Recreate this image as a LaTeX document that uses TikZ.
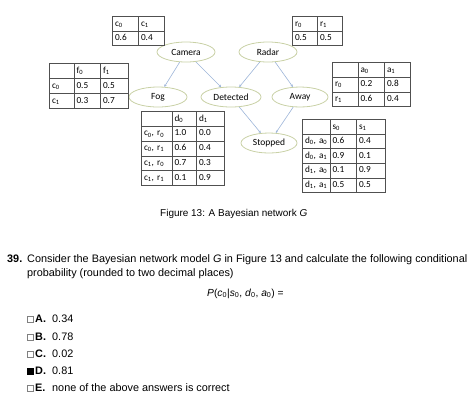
\documentclass[tikz,border=0pt]{standalone}
\usepackage{fontspec}
\setmainfont{Liberation Sans}
\newfontfamily\tabfont{Carlito}
\usetikzlibrary{arrows.meta,shapes.geometric,matrix}
\definecolor{edgec}{HTML}{9CB4D8}
\definecolor{ellc}{HTML}{C9D1A6}
\definecolor{gridc}{HTML}{505050}
\newcommand\sbs[1]{\textsubscript{#1}}
\tikzset{
  bn/.style={ellipse, draw=ellc, line width=0.8bp, fill=white, inner sep=0pt,
    minimum height=20bp, font=\tabfont\fontsize{9.5}{11}\selectfont},
  edge/.style={draw=edgec, line width=0.6bp, -{Stealth[length=2.5bp,width=2.5bp]}},
  cpt/.style={matrix of nodes, nodes in empty cells, inner sep=0pt, anchor=north west,
    column sep=-0.6bp, row sep=-0.6bp,
    font=\tabfont\fontsize{9.3}{10}\selectfont,
    nodes={draw=gridc, line width=0.6bp, inner xsep=2.5bp, inner ysep=0pt, align=left,
      text height=6.5bp, text depth=2bp, anchor=center}},
  qtext/.style={anchor=base west, inner sep=0pt, font=\fontsize{10.9}{13}\selectfont},
  cbox/.style={draw=gray, line width=0.5bp, minimum size=6.5bp, inner sep=0pt},
}
\begin{document}
\begin{tikzpicture}[x=1bp,y=-1bp]
\useasboundingbox (0,0) rectangle (474,417);
% nodes
\node[bn, minimum width=58bp] (cam) at (186,52) {Camera};
\node[bn, minimum width=58bp] (rad) at (268,52) {Radar};
\node[bn, minimum width=58bp] (fog) at (158,97) {Fog};
\node[bn, minimum width=60bp] (det) at (231,97) {Detected};
\node[bn, minimum width=56bp] (awy) at (300,97) {Away};
\node[bn, minimum width=56bp] (stp) at (269,143) {Stopped};
% edges
\draw[edge] (cam) -- (fog);
\draw[edge] (cam) -- (det);
\draw[edge] (rad) -- (det);
\draw[edge] (rad) -- (awy);
\draw[edge] (det) -- (stp);
\draw[edge] (awy) -- (stp);
% tables
\matrix (camT) [cpt, nodes={text width=21bp, minimum height=14.6bp}] at (112,16) {
  c\sbs{0} & c\sbs{1} \\
  0.6 & 0.4 \\
};
\matrix (radT) [cpt, nodes={text width=20bp, minimum height=14.6bp}] at (292,16) {
  r\sbs{0} & r\sbs{1} \\
  0.5 & 0.5 \\
};
\matrix (fogT) [cpt, nodes={minimum height=15bp},
  column 1/.style={nodes={text width=19.5bp}},
  column 2/.style={nodes={text width=21.5bp}},
  column 3/.style={nodes={text width=22.5bp}}] at (49,63) {
  & f\sbs{0} & f\sbs{1} \\
  c\sbs{0} & 0.5 & 0.5 \\
  c\sbs{1} & 0.3 & 0.7 \\
};
\matrix (awyT) [cpt, nodes={minimum height=14.7bp},
  column 1/.style={nodes={text width=20.5bp}},
  column 2/.style={nodes={text width=21.5bp}},
  column 3/.style={nodes={text width=20.5bp}}] at (332,62) {
  & a\sbs{0} & a\sbs{1} \\
  r\sbs{0} & 0.2 & 0.8 \\
  r\sbs{1} & 0.6 & 0.4 \\
};
\matrix (detT) [cpt, nodes={minimum height=14.8bp},
  column 1/.style={nodes={text width=25.5bp}},
  column 2/.style={nodes={text width=19.5bp}},
  column 3/.style={nodes={text width=22.5bp}}] at (141,111) {
  & d\sbs{0} & d\sbs{1} \\
  c\sbs{0}, r\sbs{0} & 1.0 & 0.0 \\
  c\sbs{0}, r\sbs{1} & 0.6 & 0.4 \\
  c\sbs{1}, r\sbs{0} & 0.7 & 0.3 \\
  c\sbs{1}, r\sbs{1} & 0.1 & 0.9 \\
};
\matrix (stpT) [cpt, nodes={minimum height=14.6bp},
  column 1/.style={nodes={text width=22.5bp}},
  column 2/.style={nodes={text width=21.5bp}},
  column 3/.style={nodes={text width=23.5bp}}] at (302,119) {
  & s\sbs{0} & s\sbs{1} \\
  d\sbs{0}, a\sbs{0} & 0.6 & 0.4 \\
  d\sbs{0}, a\sbs{1} & 0.9 & 0.1 \\
  d\sbs{1}, a\sbs{0} & 0.1 & 0.9 \\
  d\sbs{1}, a\sbs{1} & 0.5 & 0.5 \\
};
% caption
\node[qtext, font=\fontsize{10}{12}\selectfont] (cap) at (160,216.5) {Figure 13: A Bayesian network \textit{G}};
% question
\node[qtext] (qnum) at (7,262.5) {\textbf{39.}};
\node[qtext] (q1) at (27,262.5) {Consider the Bayesian network model \textit{G} in Figure 13 and calculate the following conditional};
\node[qtext] (q2) at (27,276) {probability (rounded to two decimal places)};
\node[qtext, font=\fontsize{10.3}{12}\selectfont] (frm) at (207,296) {\textit{P}(\textit{c}\textsubscript{0}|\textit{s}\textsubscript{0}, \textit{d}\textsubscript{0}, \textit{a}\textsubscript{0}) =};
% options
\node[cbox] (bA) at (30,319) {};
\node[qtext] (lA) at (35,322.8) {\textbf{A.}};
\node[qtext] (tA) at (52,322.8) {0.34};
\node[cbox] (bB) at (30,337) {};
\node[qtext] (lB) at (35,340.8) {\textbf{B.}};
\node[qtext] (tB) at (52,340.8) {0.78};
\node[cbox] (bC) at (30,354) {};
\node[qtext] (lC) at (35,357.8) {\textbf{C.}};
\node[qtext] (tC) at (52,357.8) {0.02};
\node[cbox, fill=black, draw=black] (bD) at (30,371) {};
\node[qtext] (lD) at (35,374.8) {\textbf{D.}};
\node[qtext] (tD) at (52,374.8) {0.81};
\node[cbox] (bE) at (30,388) {};
\node[qtext] (lE) at (35,391.8) {\textbf{E.}};
\node[qtext] (tE) at (52,391.8) {none of the above answers is correct};
\end{tikzpicture}
\end{document}
